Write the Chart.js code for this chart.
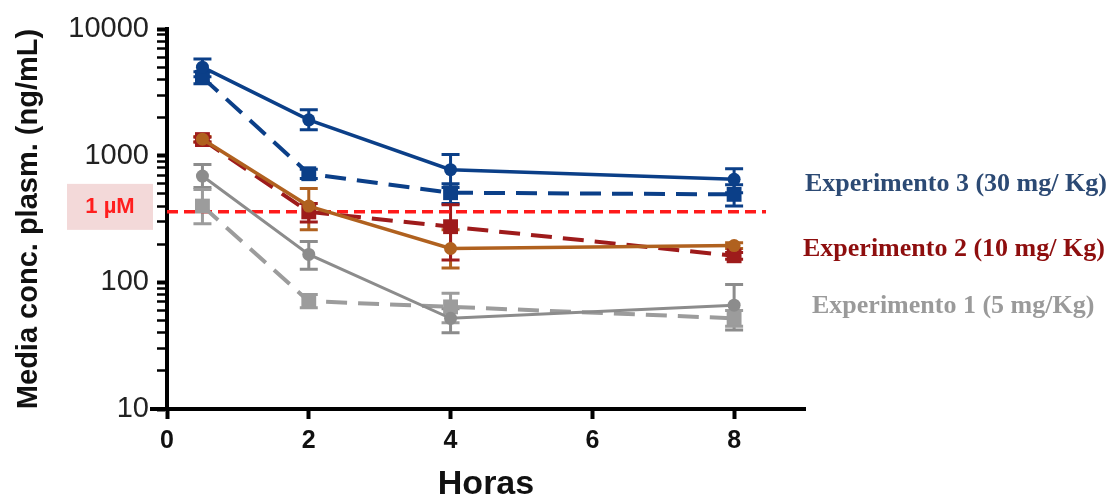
<!DOCTYPE html>
<html>
<head>
<meta charset="utf-8">
<script src="https://cdn.jsdelivr.net/npm/chart.js@4"></script>
<style>
html,body{margin:0;padding:0;background:#fff;}
#wrap{width:1117px;height:497px;position:relative;}
</style>
</head>
<body>
<div id="wrap"><canvas id="chart"></canvas></div>
<script>
// data (ng/mL)
const hours = [0.5, 2, 4, 8];
const xTicks = [0, 2, 4, 6, 8];
const yDecades = [10, 100, 1000, 10000];

const exp3Solid = [5000, 1920, 775, 650];
const exp3SolidHi = [5800, 2300, 1020, 790];
const exp3SolidLo = [4200, 1600, 560, 510];
const exp3Dash = [4150, 720, 510, 495];
const exp3DashHi = [4600, 780, 600, 590];
const exp3DashLo = [3700, 660, 420, 400];

const exp2Solid = [1350, 400, 185, 195];
const exp2SolidHi = [1420, 550, 260, 205];
const exp2SolidLo = [1280, 260, 130, 185];
const exp2Dash = [1340, 360, 275, 162];
const exp2DashHi = [1400, 420, 410, 172];
const exp2DashLo = [1280, 300, 150, 152];

const exp1Solid = [690, 166, 52, 66];
const exp1SolidHi = [850, 210, 62, 96];
const exp1SolidLo = [560, 127, 40, 42];
const exp1Dash = [400, 71, 64, 52];
const exp1DashHi = [540, 80, 82, 60];
const exp1DashLo = [290, 63, 48, 45];

const oneMicroM = 360;
const refLineX = [0, 8.45];

const seriesLabels = ['Experimento 3 (30 mg/ Kg)', 'Experimento 2 (10 mg/ Kg)', 'Experimento 1 (5 mg/Kg)'];
const labelColors = ['#2c4a74', '#8e0e0e', '#9a9a9a'];

const BLUE = '#0b3f88', BROWN = '#b0611f', DRED = '#9e1b1b', GRAY = '#8c8c8c', LGRAY = '#9c9c9c';

function pts(vals){ return hours.map((h,i)=>({x:h,y:vals[i]})); }

function series(vals, hi, lo, color, dashed, width){
  return {
    data: pts(vals), errHi: hi, errLo: lo,
    borderColor: color, backgroundColor: color,
    borderWidth: width,
    borderDash: dashed ? [21, 11] : [],
    pointStyle: dashed ? 'rect' : 'circle',
    pointRadius: dashed ? 10.5 : 6.5,
    pointBorderWidth: 0,
    tension: 0
  };
}

const errorBars = {
  id: 'errorBars',
  beforeDatasetsDraw(chart){
    const {ctx, scales:{y}} = chart;
    chart.data.datasets.forEach((ds,i)=>{
      if(!ds.errHi) return;
      const meta = chart.getDatasetMeta(i);
      ctx.save();
      ctx.strokeStyle = ds.borderColor;
      ctx.lineWidth = 3;
      meta.data.forEach((pt,j)=>{
        const top = y.getPixelForValue(ds.errHi[j]);
        const bot = y.getPixelForValue(ds.errLo[j]);
        ctx.beginPath();
        ctx.moveTo(pt.x, top); ctx.lineTo(pt.x, bot);
        ctx.moveTo(pt.x-9, top); ctx.lineTo(pt.x+9, top);
        ctx.moveTo(pt.x-9, bot); ctx.lineTo(pt.x+9, bot);
        ctx.stroke();
      });
      ctx.restore();
    });
  }
};

const sideLabels = {
  id: 'sideLabels',
  afterDraw(chart){
    const {ctx, scales:{x, y}} = chart;
    const ly = y.getPixelForValue(oneMicroM);
    ctx.save();
    // x axis line runs a little past the y axis, as in the figure
    ctx.strokeStyle = '#000'; ctx.lineWidth = 4;
    ctx.beginPath(); ctx.moveTo(150, x.top); ctx.lineTo(x.left, x.top); ctx.stroke();

    ctx.fillStyle = '#f3d9d9';
    ctx.fillRect(67, ly-28, 86, 46);
    ctx.fillStyle = '#ff1e1e';
    ctx.font = 'bold 22px "Liberation Sans", Arial, sans-serif';
    ctx.textAlign = 'center'; ctx.textBaseline = 'middle';
    ctx.fillText('1 µM', 110, ly-5);

    ctx.font = 'bold 26px "Liberation Serif", "DejaVu Serif", serif';
    ctx.textAlign = 'left';
    const pos = [[805,184],[803,249],[812,306]];
    seriesLabels.forEach((t,i)=>{
      ctx.fillStyle = labelColors[i];
      ctx.fillText(t, pos[i][0], pos[i][1]);
    });
    ctx.restore();
  }
};

Chart.defaults.font.family = '"Liberation Sans", Arial, sans-serif';

new Chart(document.getElementById('chart'), {
  type: 'line',
  data: {
    datasets: [
      series(exp3Solid, exp3SolidHi, exp3SolidLo, BLUE, false, 3.5),
      series(exp3Dash, exp3DashHi, exp3DashLo, BLUE, true, 4),
      series(exp2Solid, exp2SolidHi, exp2SolidLo, BROWN, false, 3.5),
      series(exp2Dash, exp2DashHi, exp2DashLo, DRED, true, 4),
      series(exp1Solid, exp1SolidHi, exp1SolidLo, GRAY, false, 3),
      series(exp1Dash, exp1DashHi, exp1DashLo, LGRAY, true, 4),
      {
        data: refLineX.map(x=>({x, y: oneMicroM})),
        borderColor: '#ff1a1a', borderWidth: 3.5, borderDash: [11, 6],
        pointRadius: 0, clip: false
      }
    ]
  },
  options: {
    responsive: true,
    maintainAspectRatio: false,
    animation: false,
    layout: { padding: { top: 29, right: 312, left: 0, bottom: 0 } },
    plugins: { legend: { display: false }, tooltip: { enabled: false } },
    scales: {
      x: {
        type: 'linear', min: 0, max: 9,
        afterBuildTicks: s => { s.ticks = xTicks.map(v=>({value:v})); },
        afterFit: s => { s.height = 88; },
        grid: { drawOnChartArea: false, drawTicks: true, tickLength: 10, tickWidth: 4, tickColor: '#000' },
        border: { display: true, color: '#000', width: 4 },
        ticks: { color: '#111', font: { size: 25, weight: 'bold' }, padding: 7, maxRotation: 0 },
        title: { display: true, text: 'Horas', color: '#111', font: { size: 34, weight: 'bold', lineHeight: 0.7 }, padding: 0 }
      },
      y: {
        type: 'logarithmic', min: 10, max: 10000,
        afterBuildTicks: s => {
          const t = [];
          yDecades.forEach((d,i)=>{
            if(i < yDecades.length-1){ for(let k=1;k<10;k++) t.push({value:d*k}); }
            else t.push({value:d});
          });
          s.ticks = t;
        },
        afterFit: s => { s.width = 167; },
        grid: {
          drawOnChartArea: false, drawTicks: true, tickLength: 10, tickColor: '#000',
          tickWidth: c => (c.tick && yDecades.includes(c.tick.value)) ? 4 : 2.5
        },
        border: { display: true, color: '#000', width: 4 },
        ticks: {
          autoSkip: false, color: '#222', padding: 8,
          font: { size: 29 },
          callback: v => yDecades.includes(v) ? String(v) : ''
        },
        title: { display: true, text: 'Media conc. plasm. (ng/mL)', color: '#111', font: { size: 29, weight: 'bold' }, padding: { top: 12, bottom: 0 } }
      }
    }
  },
  plugins: [errorBars, sideLabels]
});
</script>
</body>
</html>
